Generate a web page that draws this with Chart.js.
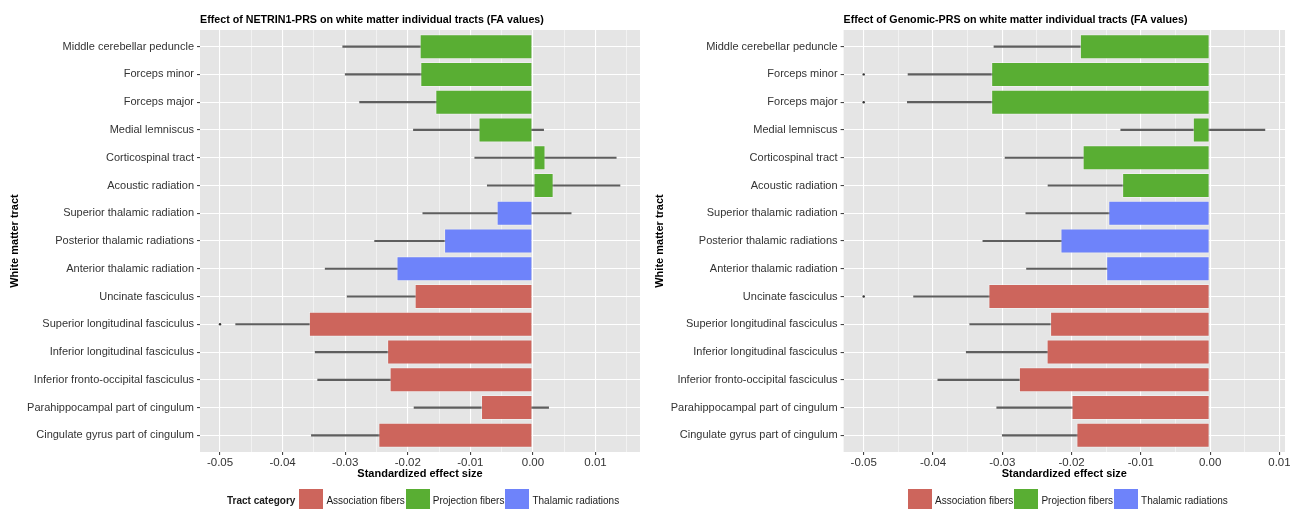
<!DOCTYPE html>
<html>
<head>
<meta charset="utf-8">
<script src="https://cdn.jsdelivr.net/npm/chart.js@4.4.1/dist/chart.umd.min.js"></script>
<style>
  body { margin: 0; background: #fff; width: 1290px; height: 509px; overflow: hidden; position: relative;
         font-family: "Liberation Sans", Arial, sans-serif; }
  canvas { position: absolute; top: 0; }
  #netrinChart { left: 0; }
  #genomicChart { left: 645px; }
  .legend { position: absolute; top: 489px; display: flex; align-items: flex-start; font-size: 10px; color: #1a1a1a; }
  .legend .head { font-weight: bold; margin-right: 4px; line-height: 24px; }
  .legend .box { width: 24px; height: 22px; margin-right: 3px; }
  .legend .lab { margin-right: 1px; line-height: 24px; }
</style>
</head>
<body>
<canvas id="netrinChart" width="645" height="509"></canvas>
<canvas id="genomicChart" width="645" height="509"></canvas>
<div class="legend" id="legendLeft" style="left:227px"></div>
<div class="legend" id="legendRight" style="left:908px"></div>
<script>
const tracts = [
  'Middle cerebellar peduncle', 'Forceps minor', 'Forceps major', 'Medial lemniscus',
  'Corticospinal tract', 'Acoustic radiation', 'Superior thalamic radiation',
  'Posterior thalamic radiations', 'Anterior thalamic radiation', 'Uncinate fasciculus',
  'Superior longitudinal fasciculus', 'Inferior longitudinal fasciculus',
  'Inferior fronto-occipital fasciculus', 'Parahippocampal part of cingulum',
  'Cingulate gyrus part of cingulum'
];
const tractCategory = [
  'Projection fibers', 'Projection fibers', 'Projection fibers', 'Projection fibers',
  'Projection fibers', 'Projection fibers', 'Thalamic radiations', 'Thalamic radiations',
  'Thalamic radiations', 'Association fibers', 'Association fibers', 'Association fibers',
  'Association fibers', 'Association fibers', 'Association fibers'
];
const categoryNames = ['Association fibers', 'Projection fibers', 'Thalamic radiations'];
const categoryColors = ['#CD655C', '#59AE33', '#6E83FA'];

// NETRIN1-PRS
const netrinEffect = [-0.0181, -0.0180, -0.0156, -0.0087, 0.0020, 0.0033, -0.0058, -0.0142, -0.0218, -0.0189, -0.0358, -0.0233, -0.0229, -0.0083, -0.0247];
const netrinLower  = [-0.0304, -0.0300, -0.0277, -0.0191, -0.0093, -0.0073, -0.0176, -0.0253, -0.0332, -0.0297, -0.0475, -0.0348, -0.0344, -0.0190, -0.0354];
const netrinUpper  = [-0.0058, -0.0060, -0.0035, 0.0017, 0.0133, 0.0139, 0.0061, -0.0031, -0.0104, -0.0081, -0.0241, -0.0118, -0.0114, 0.0025, -0.0140];
const netrinDots   = [{ x: -0.05, tract: 'Superior longitudinal fasciculus' }];

// Genomic-PRS
const genomicEffect = [-0.0188, -0.0316, -0.0316, -0.0025, -0.0184, -0.0127, -0.0147, -0.0216, -0.0150, -0.0320, -0.0231, -0.0236, -0.0276, -0.0200, -0.0193];
const genomicLower  = [-0.0312, -0.0436, -0.0437, -0.0129, -0.0296, -0.0234, -0.0266, -0.0328, -0.0265, -0.0428, -0.0347, -0.0352, -0.0393, -0.0308, -0.0300];
const genomicUpper  = [-0.0064, -0.0196, -0.0195, 0.0079, -0.0072, -0.0020, -0.0028, -0.0104, -0.0035, -0.0212, -0.0115, -0.0120, -0.0159, -0.0092, -0.0086];
const genomicDots   = [
  { x: -0.05, tract: 'Forceps minor' },
  { x: -0.05, tract: 'Forceps major' },
  { x: -0.05, tract: 'Uncinate fasciculus' }
];

const FONT = '"Liberation Sans", Arial, sans-serif';
const colorOf = c => categoryColors[categoryNames.indexOf(c)];
const isMajor = v => Math.abs(Math.round(v * 200)) % 2 === 0;

const panelBg = {
  id: 'panelBg',
  beforeDraw(chart) {
    const { ctx, chartArea: a } = chart;
    ctx.save();
    ctx.fillStyle = '#E5E5E5';
    ctx.fillRect(a.left, a.top, a.right - a.left, a.bottom - a.top);
    ctx.restore();
  }
};

const panelTitle = {
  id: 'panelTitle',
  afterDraw(chart, args, opts) {
    const ctx = chart.ctx;
    ctx.save();
    ctx.font = 'bold 10.7px ' + FONT;
    ctx.fillStyle = '#000';
    ctx.textBaseline = 'middle';
    ctx.textAlign = 'left';
    ctx.fillText(opts.text, chart.chartArea.left, 20);
    ctx.restore();
  }
};

function makeChart(id, title, effect, lower, upper, dots, xmin, xmax, yWidth) {
  return new Chart(document.getElementById(id), {
    type: 'bar',
    data: {
      datasets: [
        {
          label: 'Effect',
          data: effect.map((v, i) => ({ x: v, y: i })),
          backgroundColor: tractCategory.map(colorOf),
          borderColor: 'rgba(255,255,255,0.35)',
          borderWidth: 1,
          borderSkipped: false,
          barPercentage: 0.9,
          categoryPercentage: 1,
          grouped: false,
          order: 1
        },
        {
          label: '95% CI',
          data: tracts.map((t, i) => ({ x: [lower[i], upper[i]], y: i })),
          backgroundColor: '#5e5e5e',
          barThickness: 1.5,
          grouped: false,
          order: 2
        },
        {
          type: 'scatter',
          label: 'Outlier',
          data: dots.map(d => ({ x: d.x, y: tracts.indexOf(d.tract) })),
          pointRadius: 1.2,
          pointBackgroundColor: '#333',
          pointBorderWidth: 0,
          order: 3
        }
      ]
    },
    options: {
      indexAxis: 'y',
      responsive: false,
      animation: false,
      layout: { padding: { top: 30, right: 5, bottom: 25, left: 0 } },
      plugins: {
        legend: { display: false },
        tooltip: { enabled: false },
        panelTitle: { text: title }
      },
      scales: {
        x: {
          type: 'linear',
          min: xmin,
          max: xmax,
          border: { display: false },
          afterBuildTicks(scale) {
            const t = [];
            for (let k = -11; k <= 4; k++) {
              const v = Math.round(k * 5) / 1000;
              if (v >= scale.min && v <= scale.max) t.push({ value: v });
            }
            scale.ticks = t;
          },
          afterFit(scale) {
            scale.height = 32;
            scale.paddingLeft = 0;
            scale.paddingRight = 0;
          },
          grid: {
            color: '#fff',
            lineWidth: ctx => isMajor(ctx.tick.value) ? 1.1 : 0.5,
            tickLength: 3,
            tickColor: ctx => isMajor(ctx.tick.value) ? '#444' : 'rgba(0,0,0,0)'
          },
          ticks: {
            autoSkip: false,
            maxRotation: 0,
            padding: 1,
            color: '#333',
            font: { family: FONT, size: 11.5 },
            callback: v => isMajor(v) ? (Math.abs(v) < 1e-9 ? '0.00' : v.toFixed(2)) : ''
          },
          title: {
            display: true,
            text: 'Standardized effect size',
            color: '#000',
            font: { family: FONT, size: 11, weight: 'bold' },
            padding: { top: 0, bottom: 3 }
          }
        },
        y: {
          type: 'linear',
          min: -0.6,
          max: tracts.length - 0.4,
          reverse: true,
          offset: false,
          border: { display: false },
          afterBuildTicks(scale) { scale.ticks = tracts.map((t, i) => ({ value: i })); },
          afterFit(scale) { scale.width = yWidth; },
          grid: {
            offset: false,
            color: '#fff',
            lineWidth: 1.1,
            tickLength: 3,
            tickColor: '#444'
          },
          ticks: {
            autoSkip: false,
            padding: 3,
            color: '#333',
            font: { family: FONT, size: 11 },
            callback: v => tracts[v]
          },
          title: {
            display: true,
            text: 'White matter tract',
            color: '#000',
            font: { family: FONT, size: 11, weight: 'bold' },
            padding: { top: 8, bottom: 0 }
          }
        }
      }
    },
    plugins: [panelBg, panelTitle]
  });
}

makeChart('netrinChart', 'Effect of NETRIN1-PRS on white matter individual tracts (FA values)',
  netrinEffect, netrinLower, netrinUpper, netrinDots, -0.0532, 0.0171, 200);
makeChart('genomicChart', 'Effect of Genomic-PRS on white matter individual tracts (FA values)',
  genomicEffect, genomicLower, genomicUpper, genomicDots, -0.0529, 0.0108, 198.6);

function buildLegend(el, withHead) {
  let html = withHead ? '<span class="head">Tract category</span>' : '';
  categoryNames.forEach((name, i) => {
    html += '<span class="box" style="background:' + categoryColors[i] + '"></span><span class="lab">' + name + '</span>';
  });
  el.innerHTML = html;
}
buildLegend(document.getElementById('legendLeft'), true);
buildLegend(document.getElementById('legendRight'), false);
</script>
</body>
</html>
